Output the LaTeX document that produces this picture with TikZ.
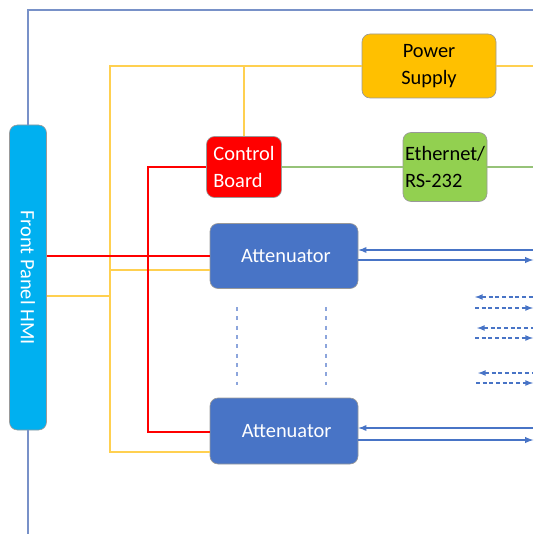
\documentclass[tikz,border=0pt]{standalone}
\usepackage{fontspec}
\setmainfont{Carlito}
\usetikzlibrary{shapes,arrows}
\definecolor{hmiblue}{RGB}{0,176,240}
\definecolor{psorange}{RGB}{255,192,0}
\definecolor{ethgreen}{RGB}{146,208,80}
\definecolor{attblue}{RGB}{72,116,198}
\definecolor{pwrline}{RGB}{255,208,80}
\definecolor{netline}{RGB}{150,195,120}
\definecolor{frameline}{RGB}{120,145,200}
\definecolor{gapline}{RGB}{140,165,220}

\begin{document}
\begin{tikzpicture}[x=0.75pt,y=-0.75pt]
	\tikzset{block/.style = {shape=rectangle,rounded corners=6pt,draw=gray!80,line width=0.5pt,align=center,font=\fontsize{15.3}{20}\selectfont}}
	
	\tikzset{pwr/.style = {draw=pwrline,line width=1.1pt}}
	
	\tikzset{ctl/.style = {draw=red,line width=1.1pt}}
	
	\tikzset{sig/.style = {draw=attblue,line width=1.1pt,> = latex}}
	
	\useasboundingbox (0,0) rectangle (533,534);
	
	% blocks
	
	\node[block,fill=hmiblue,minimum width=27.75pt,minimum height=228.75pt] (hmi) at (28,277.5) {};
	\node[rotate=-90,text=white,font=\fontsize{15.3}{20}\selectfont] (hmitext) at (hmi.center) {Front Panel HMI};
	
	\node[block,fill=psorange,minimum width=100.5pt,minimum height=48pt] (ps) at (429,66) {Power\\Supply};
	
	\node[block,fill=red,text=white,align=left,minimum width=56.25pt,minimum height=45.75pt,inner sep=1pt] (cb) at (244,167) {Control\\Board};
	
	\node[block,fill=ethgreen,align=left,minimum width=63pt,minimum height=51.75pt,inner sep=1pt] (eth) at (445,167) {Ethernet/\\RS-232};
	
	\node[block,fill=attblue,text=white,minimum width=111pt,minimum height=48.75pt] (att1) at (284,256) {\hspace{3pt}Attenuator};
	
	\node[block,fill=attblue,text=white,minimum width=111pt,minimum height=49.5pt] (att2) at (284,431) {\hspace{4pt}Attenuator};
	
	% points
	
	\coordinate (ptop) at (110,66);
	\coordinate (pbot) at (110,452);
	\coordinate (phmi) at (110,296);
	\coordinate (patt) at (110,270);
	\coordinate (pout) at (533,66);
	\coordinate (rbot) at (148,432);
	\coordinate (eout) at (533,167);
	\coordinate (fout) at (533,10);
	\coordinate (fbot) at (28,534);
	
	%edges
	
	\draw[draw=frameline,line width=1pt] (hmi.north) |- (fout);
	\draw[draw=frameline,line width=1pt] (hmi.south) -- (fbot);
	
	\draw[pwr] (ps.west) -- (ptop) -- (pbot) -- (pbot -| att2.west);
	\draw[pwr] (ps.east) -- (pout);
	\draw[pwr] (cb.north) -- (cb.north |- ptop);
	\draw[pwr] (phmi -| hmi.east) -- (phmi);
	\draw[pwr] (patt) -- (patt -| att1.west);
	
	\draw[ctl] (cb.west) -| (rbot) -- (rbot -| att2.west);
	\draw[ctl] (att1.west -| hmi.east) -- (att1.west);
	
	\draw[draw=netline,line width=1.1pt] (cb.east) -- (eth.west);
	\draw[draw=netline,line width=1.1pt] (eth.east) -- (eout);
	
	\begin{scope}[every path/.style={sig}]
	\draw[<-] ([yshift=4.5pt]att1.east) -- +(131.25pt,0);
	\draw[->] ([yshift=-3pt]att1.east) -- +(131.25pt,0);
	\draw[<-] ([yshift=2.25pt]att2.east) -- +(131.25pt,0);
	\draw[->] ([yshift=-6.75pt]att2.east) -- +(131.25pt,0);
	\end{scope}
	
	\begin{scope}[every path/.style={sig,dash pattern=on 3pt off 2pt,line width=1pt}]
	\draw[<-] (475,297) -- (533,297);
	\draw[->] (475,308) -- (533,308);
	\draw[<-] (477,328) -- (533,328);
	\draw[->] (475,338) -- (533,338);
	\draw[<-] (478,373) -- (533,373);
	\draw[->] (476,383) -- (533,383);
	\end{scope}
	
	\draw[draw=gapline,line width=1pt,dash pattern=on 3pt off 4pt] (237,307) -- (237,385);
	\draw[draw=gapline,line width=1pt,dash pattern=on 3pt off 4pt] (326,307) -- (326,385);
\end{tikzpicture}
\end{document}
